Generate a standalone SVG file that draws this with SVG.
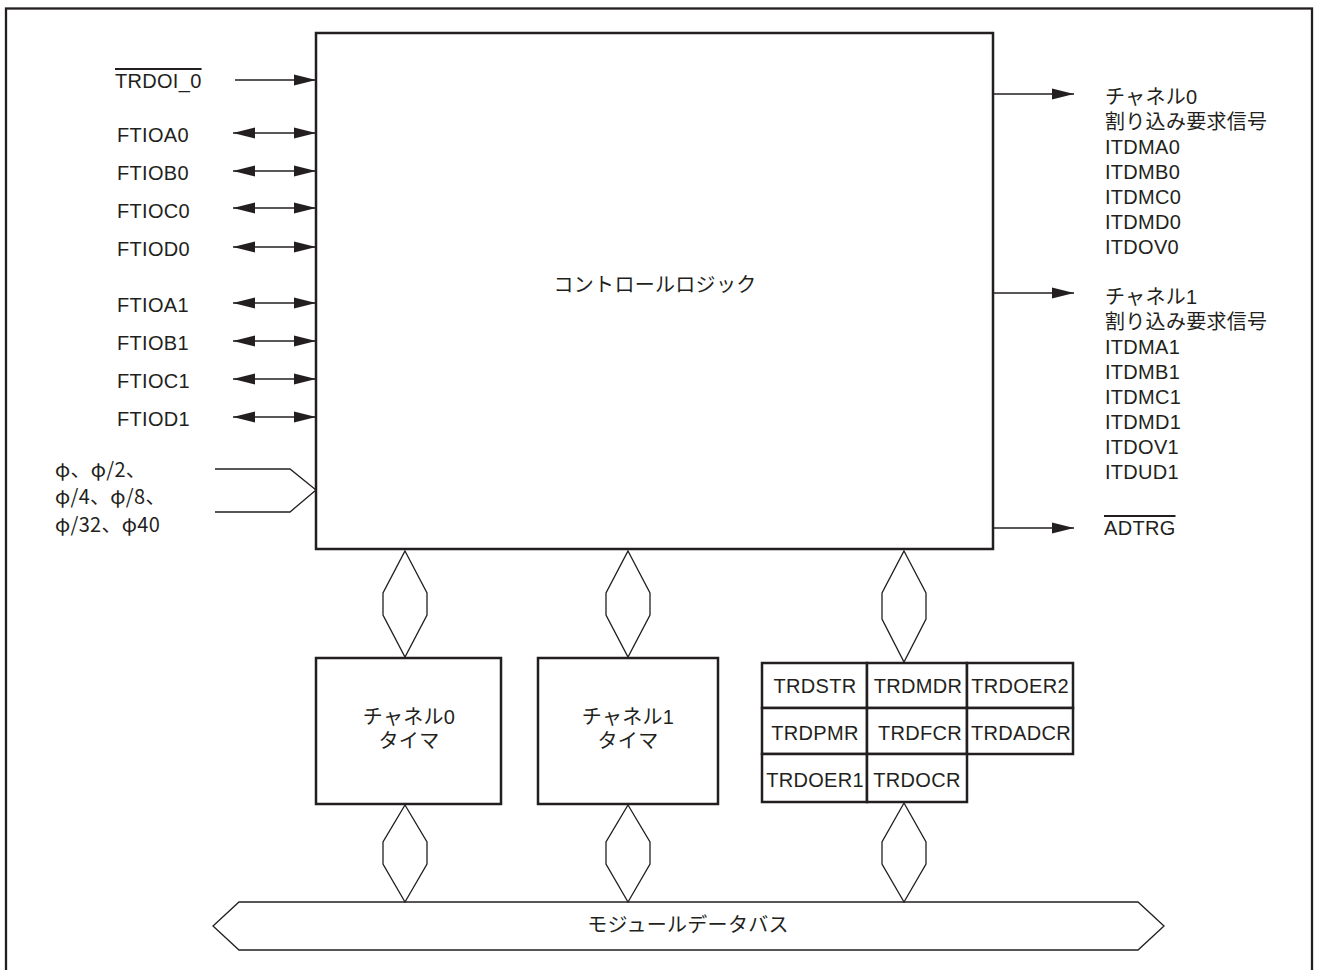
<svg xmlns="http://www.w3.org/2000/svg" width="1323" height="970" viewBox="0 0 1323 970">
<style>
.t{font-family:"Liberation Sans","Noto Sans CJK JP",sans-serif;font-size:20px;letter-spacing:0.3px;fill:#231f20}
.c{text-anchor:middle}
.p{font-family:"Noto Sans CJK JP",sans-serif}
.box{fill:#fff;stroke:#231f20;stroke-width:2.5}
.ln{fill:none;stroke:#231f20;stroke-width:1.3}
.bus{fill:#fff;stroke:#231f20;stroke-width:1.3;stroke-linejoin:miter}
.ov{text-decoration:overline}
</style>
<defs>
<marker id="ah" markerUnits="userSpaceOnUse" markerWidth="22" markerHeight="12" refX="22" refY="6" orient="auto-start-reverse">
<path d="M0,0.5 L22,6 L0,11.5 z" fill="#231f20"/>
</marker>
</defs>
<rect x="0" y="0" width="1323" height="970" fill="#fff"/>
<rect id="frame" x="6" y="8.5" width="1306" height="975" fill="none" stroke="#231f20" stroke-width="2.3"/>

<g id="control-logic">
<rect class="box" x="316" y="33" width="677" height="516"/>
<text class="t c" x="655" y="292">コントロールロジック</text>
</g>

<g id="timer0">
<rect class="box" x="316" y="658" width="185" height="146"/>
<text class="t c" x="409" y="724">チャネル0</text>
<text class="t c" x="409" y="748">タイマ</text>
</g>

<g id="timer1">
<rect class="box" x="538" y="658" width="180" height="146"/>
<text class="t c" x="628" y="724">チャネル1</text>
<text class="t c" x="628" y="748">タイマ</text>
</g>

<g id="registers">
<rect class="box" x="762" y="663" width="105" height="45"/>
<rect class="box" x="867" y="663" width="100" height="45"/>
<rect class="box" x="967" y="663" width="106" height="45"/>
<rect class="box" x="762" y="708" width="105" height="46"/>
<rect class="box" x="867" y="708" width="100" height="46"/>
<rect class="box" x="967" y="708" width="106" height="46"/>
<rect class="box" x="762" y="754" width="105" height="48"/>
<rect class="box" x="867" y="754" width="100" height="48"/>
<text class="t c" x="815" y="693">TRDSTR</text>
<text class="t c" x="918" y="693">TRDMDR</text>
<text class="t c" x="1020" y="693">TRDOER2</text>
<text class="t c" x="815" y="740">TRDPMR</text>
<text class="t c" x="920" y="740">TRDFCR</text>
<text class="t c" x="1021" y="740">TRDADCR</text>
<text class="t c" x="815" y="787">TRDOER1</text>
<text class="t c" x="917" y="787">TRDOCR</text>
</g>

<g id="module-data-bus">
<polygon class="bus" points="239,902 1138,902 1164,926 1138,950 239,950 213,926"/>
<text class="t c" x="688" y="932">モジュールデータバス</text>
</g>

<g id="left-labels">
<text class="t ov" x="115" y="88">TRDOI_0</text>
<text class="t" x="117" y="142">FTIOA0</text>
<text class="t" x="117" y="180">FTIOB0</text>
<text class="t" x="117" y="218">FTIOC0</text>
<text class="t" x="117" y="256">FTIOD0</text>
<text class="t" x="117" y="312">FTIOA1</text>
<text class="t" x="117" y="350">FTIOB1</text>
<text class="t" x="117" y="388">FTIOC1</text>
<text class="t" x="117" y="426">FTIOD1</text>
<text class="t p" x="55" y="477">φ、φ/2、</text>
<text class="t p" x="55" y="504">φ/4、φ/8、</text>
<text class="t p" x="55" y="532">φ/32、φ40</text>
</g>

<g id="right-labels">
<text class="t" x="1105" y="104">チャネル0</text>
<text class="t" x="1105" y="129">割り込み要求信号</text>
<text class="t" x="1105" y="154">ITDMA0</text>
<text class="t" x="1105" y="179">ITDMB0</text>
<text class="t" x="1105" y="204">ITDMC0</text>
<text class="t" x="1105" y="229">ITDMD0</text>
<text class="t" x="1105" y="254">ITDOV0</text>
<text class="t" x="1105" y="304">チャネル1</text>
<text class="t" x="1105" y="329">割り込み要求信号</text>
<text class="t" x="1105" y="354">ITDMA1</text>
<text class="t" x="1105" y="379">ITDMB1</text>
<text class="t" x="1105" y="404">ITDMC1</text>
<text class="t" x="1105" y="429">ITDMD1</text>
<text class="t" x="1105" y="454">ITDOV1</text>
<text class="t" x="1105" y="479">ITDUD1</text>
<text class="t ov" x="1104" y="535">ADTRG</text>
</g>

<g id="connectors">
<line class="ln" x1="235" y1="80" x2="316" y2="80" marker-end="url(#ah)"/>
<line class="ln" x1="233" y1="133" x2="316" y2="133" marker-start="url(#ah)" marker-end="url(#ah)"/>
<line class="ln" x1="233" y1="171" x2="316" y2="171" marker-start="url(#ah)" marker-end="url(#ah)"/>
<line class="ln" x1="233" y1="208" x2="316" y2="208" marker-start="url(#ah)" marker-end="url(#ah)"/>
<line class="ln" x1="233" y1="247" x2="316" y2="247" marker-start="url(#ah)" marker-end="url(#ah)"/>
<line class="ln" x1="233" y1="303" x2="316" y2="303" marker-start="url(#ah)" marker-end="url(#ah)"/>
<line class="ln" x1="233" y1="341" x2="316" y2="341" marker-start="url(#ah)" marker-end="url(#ah)"/>
<line class="ln" x1="233" y1="379" x2="316" y2="379" marker-start="url(#ah)" marker-end="url(#ah)"/>
<line class="ln" x1="233" y1="417" x2="316" y2="417" marker-start="url(#ah)" marker-end="url(#ah)"/>
<polyline class="ln" points="215,469 290,469 316,490 290,512 215,512"/>
<line class="ln" x1="993" y1="94" x2="1074" y2="94" marker-end="url(#ah)"/>
<line class="ln" x1="993" y1="293" x2="1074" y2="293" marker-end="url(#ah)"/>
<line class="ln" x1="993" y1="528" x2="1074" y2="528" marker-end="url(#ah)"/>
<polygon class="ln" points="405,551 427,593 427,615 405,657 383,615 383,593"/>
<polygon class="ln" points="628,551 650,593 650,615 628,657 606,615 606,593"/>
<polygon class="ln" points="904,551 926,593 926,619 904,662 882,619 882,593"/>
<polygon class="ln" points="405,805 427,842 427,864 405,902 383,864 383,842"/>
<polygon class="ln" points="628,805 650,842 650,864 628,902 606,864 606,842"/>
<polygon class="ln" points="904,803 926,842 926,864 904,902 882,864 882,842"/>
</g>
</svg>
